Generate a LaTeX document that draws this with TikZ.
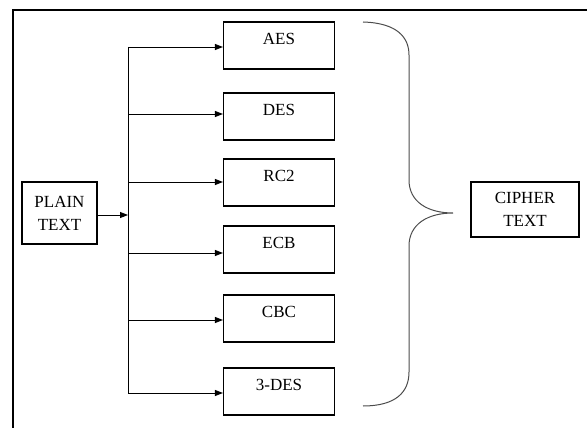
\documentclass[tikz,border=0pt]{standalone}
\usepackage{fontspec}
\setmainfont{Liberation Serif}
\usetikzlibrary{arrows.meta,positioning}

\begin{document}
\begin{tikzpicture}[x=1pt,y=-1pt,
  every node/.style={font=\fontsize{17}{23}\selectfont},
  algbox/.style={draw,line width=1.1pt,minimum width=111pt,inner ysep=0pt,text height=22.5pt,text depth=24.5pt},
  endbox/.style={draw,line width=1.1pt,align=center,inner sep=0pt},
  feed/.style={-{Triangle[length=8pt,width=6pt]},line width=0.9pt}]
  \useasboundingbox (0,0) rectangle (587,428);
  \draw[line width=1.2pt] (13,428) -- (13,10) -- (587,10);
  % input and output
  \node[endbox,minimum width=75pt,minimum height=62pt] (plain) at (59.5,213) {PLAIN\\TEXT};
  \node[endbox,minimum width=108pt,minimum height=55pt] (cipher) at (525,209.5) {CIPHER\\TEXT};
  % algorithms
  \node[algbox] (aes) at (279,45.5) {AES};
  \node[algbox] (des) at (279,116.5) {DES};
  \node[algbox] (rc) at (279,182.5) {RC2};
  \node[algbox] (ecb) at (279,249.5) {ECB};
  \node[algbox] (cbc) at (279,318.5) {CBC};
  \node[algbox] (tdes) at (279,391.5) {3-DES};
  \coordinate (jn) at (128,215);
  \foreach \b/\y in {aes/47,des/114,rc/182,ecb/253,cbc/320,tdes/393}{
    \coordinate (br-\b) at (128,\y);
    \draw[feed] (br-\b) -- (br-\b -| \b.west);
  }
  \draw[line width=0.9pt] (br-aes) -- (br-tdes);
  \draw[feed] (plain.east |- jn) -- (jn);
  % brace
  \draw[line width=1pt,black!70] (363,22) .. controls (398,23) and (409,38) .. (409,55)
    -- (409,180) .. controls (409,202) and (428,213) .. (453,213)
    .. controls (428,213) and (409,224) .. (409,246)
    -- (409,372) .. controls (409,392) and (396,406) .. (363,406);
\end{tikzpicture}
\end{document}
